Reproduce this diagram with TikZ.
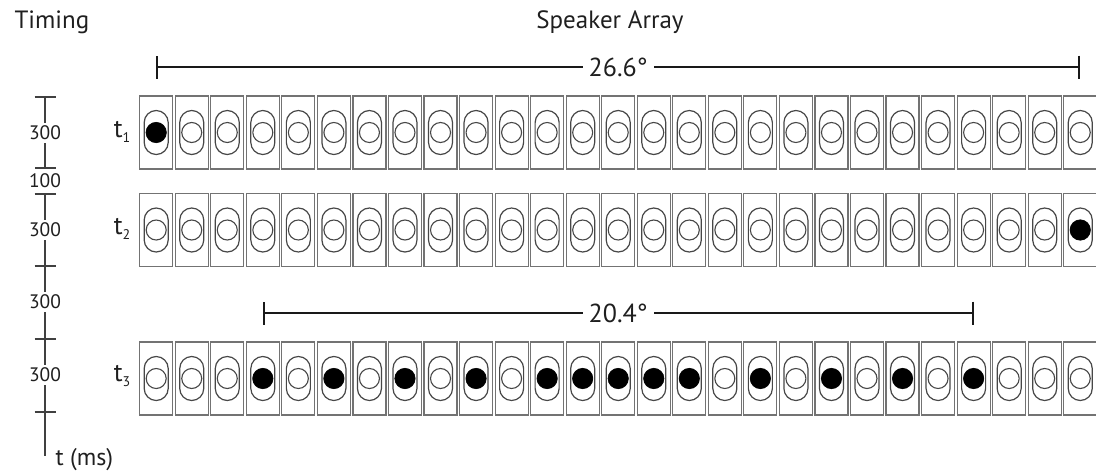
\documentclass[tikz,border=0pt]{standalone}
\usepackage{fontspec}
\setmainfont{PT Sans}
\usetikzlibrary{arrows.meta}
\begin{document}
\begin{tikzpicture}[x=1pt,y=-1pt,
  spk/.style={draw=black!55, line width=1.15pt, fill=white,
    minimum width=33pt, minimum height=73pt, inner sep=0pt},
  slot/.style={draw=black!72, line width=1.2pt, rounded corners=12pt,
    minimum width=24pt, minimum height=44pt, inner sep=0pt},
  cone/.style={circle, draw=black!72, line width=1.1pt,
    minimum size=20pt, inner sep=0pt},
  oncone/.style={circle, draw=black, fill=black, line width=0.6pt,
    minimum size=20pt, inner sep=0pt},
  span/.style={line width=1.8pt, draw=black!90,
    {Bar[width=23pt,line width=1.8pt]}-{Bar[width=23pt,line width=1.8pt]}},
  spanlbl/.style={fill=white, inner xsep=6pt, inner ysep=2pt,
    font=\fontsize{26}{28}\selectfont, text=black!88},
  axis/.style={line width=1.8pt, draw=black!75},
  tick/.style={line width=1.8pt, draw=black!75},
  ms/.style={fill=white, inner xsep=1pt, inner ysep=3pt,
    font=\fontsize{19.5}{21}\selectfont, text=black!88},
  rowlbl/.style={font=\fontsize{26}{28}\selectfont, text=black!88},
  head/.style={font=\fontsize{25}{28}\selectfont, text=black!88}
]
\useasboundingbox (0,0) rectangle (1096,472);

% headings
\node[head, anchor=base west] (timing) at (11,28) {Timing};
\node[head, anchor=base] (array) at (610,28) {Speaker Array};

% three rows of 27 loudspeakers
\foreach \r/\yc in {1/132.5, 2/230, 3/378.5} {
  \foreach \i in {1,...,27} {
    \node[spk] (r\r b\i) at ({156.2+35.54*(\i-1)},\yc) {};
    \node[slot] (r\r s\i) at (r\r b\i.center) {};
    \node[cone] (r\r c\i) at (r\r b\i.center) {};
  }
}

% active loudspeakers
\node[oncone] at (r1c1) {};
\node[oncone] at (r2c27) {};
\foreach \i in {4,6,8,10,12,13,14,15,16,18,20,22,24}
  \node[oncone] at (r3c\i) {};

% angular extent bars
\coordinate (wl) at (r1b1 |- 0,67);
\coordinate (wr) at (r1b27 |- 0,67);
\draw[span] (wl) -- (wr) node[spanlbl, midway] {26.6°};
\coordinate (nl) at (r3b4 |- 0,313);
\coordinate (nr) at (r3b24 |- 0,313);
\draw[span] (nl) -- (nr) node[spanlbl, midway] {20.4°};

% row labels
\node[rowlbl] (t1) at (122,132) {t\raisebox{-5pt}{\fontsize{14}{14}\selectfont 1}};
\node[rowlbl] (t2) at (122,229) {t\raisebox{-5pt}{\fontsize{14}{14}\selectfont 2}};
\node[rowlbl] (t3) at (122,376) {t\raisebox{-5pt}{\fontsize{14}{14}\selectfont 3}};

% timing axis
\coordinate (a0) at (45,96);
\coordinate (a1) at (45,169);
\coordinate (a2) at (45,193);
\coordinate (a3) at (45,266);
\coordinate (a4) at (45,339);
\coordinate (a5) at (45,412);
\coordinate (aend) at (45,456);
\draw[axis, {Bar[width=21pt,line width=1.8pt]}-{Bar[width=21pt,line width=1.8pt]}] (a0) -- (a1);
\draw[axis, {Bar[width=21pt,line width=1.8pt]}-] (a2) -- (aend);
\foreach \k in {3,4,5}
  \draw[tick] ([xshift=-10.5pt]a\k) -- ([xshift=10.5pt]a\k);

\node[ms] (d1) at (45,133) {300};
\node[ms, inner ysep=0pt] (d2) at (45,181) {100};
\node[ms] (d3) at (45,230) {300};
\node[ms] (d4) at (45,302) {300};
\node[ms] (d5) at (45,375) {300};
\node[rowlbl, anchor=base west, font=\fontsize{24}{26}\selectfont] (unit) at (52,465) {t (ms)};
\end{tikzpicture}
\end{document}
